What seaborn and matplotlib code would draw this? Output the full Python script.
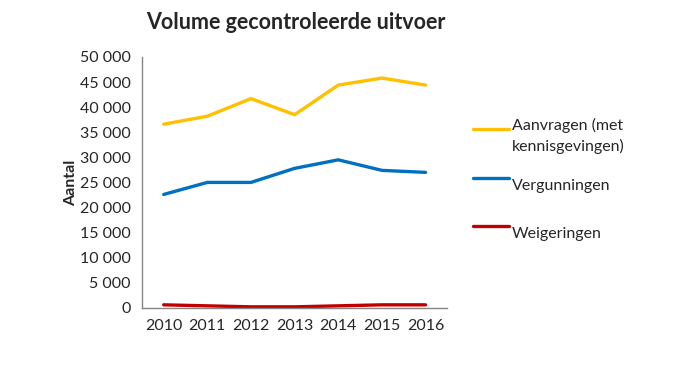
import matplotlib.pyplot as plt
import matplotlib.ticker as mticker
import pandas as pd
import seaborn as sns

# Gegevens
jaren = ["2010", "2011", "2012", "2013", "2014", "2015", "2016"]
aanvragen = [36600, 38200, 41700, 38500, 44400, 45800, 44400]
vergunningen = [22600, 25000, 25000, 27800, 29500, 27400, 27000]
weigeringen = [600, 400, 200, 200, 400, 600, 600]

reeksen = {
    "Aanvragen (met\nkennisgevingen)": aanvragen,
    "Vergunningen": vergunningen,
    "Weigeringen": weigeringen,
}
kleuren = ["#FFC000", "#0070C0", "#C00000"]

df = pd.DataFrame(
    [
        {"jaar": j, "reeks": naam, "aantal": w}
        for naam, waarden in reeksen.items()
        for j, w in zip(jaren, waarden)
    ]
)

sns.set_style("white")
plt.rcParams["font.family"] = ["Lato", "DejaVu Sans"]

fig = plt.figure(figsize=(6.82, 3.70), dpi=100)
ax = fig.add_axes([0.208, 0.168, 0.448, 0.678])

sns.lineplot(
    data=df, x="jaar", y="aantal", hue="reeks", palette=kleuren,
    linewidth=2.4, sort=False, ax=ax,
)

ax.set_xlim(-0.5, len(jaren) - 0.5)
ax.set_ylim(0, 50000)
ax.yaxis.set_major_locator(mticker.MultipleLocator(5000))
ax.yaxis.set_major_formatter(
    mticker.FuncFormatter(lambda v, p: f"{int(v):,}".replace(",", " "))
)

# x-ticks tussen de categorieën, labels in het midden
ax.set_xticks(range(len(jaren)))
ax.set_xticklabels(jaren)
ax.set_xticks([i - 0.5 for i in range(len(jaren) + 1)], minor=True)
ax.tick_params(axis="x", which="major", length=0, labelsize=11.5, pad=8)
ax.tick_params(axis="x", which="minor", length=5, color="#868686", direction="out")
ax.tick_params(axis="y", length=4, color="#868686", labelsize=11.5, pad=4, direction="out")

sns.despine(ax=ax)
for s in ["left", "bottom"]:
    ax.spines[s].set_color("#868686")
    ax.spines[s].set_linewidth(1)

ax.set_xlabel("")
ax.set_ylabel("Aantal", fontsize=11.5, fontweight="bold", labelpad=1)

fig.text(0.434, 0.94, "Volume gecontroleerde uitvoer", fontsize=15.5,
         fontweight="bold", ha="center", va="center")

leg = ax.legend(
    loc="upper left", bbox_to_anchor=(0.672, 0.7225), bbox_transform=fig.transFigure,
    frameon=False, fontsize=11.5, handlelength=2.3, handletextpad=0.15,
    handleheight=3.5, labelspacing=0.5,
)
for t in leg.get_texts():
    t.set_linespacing(1.5)

fig.savefig("out.png", dpi=100)
